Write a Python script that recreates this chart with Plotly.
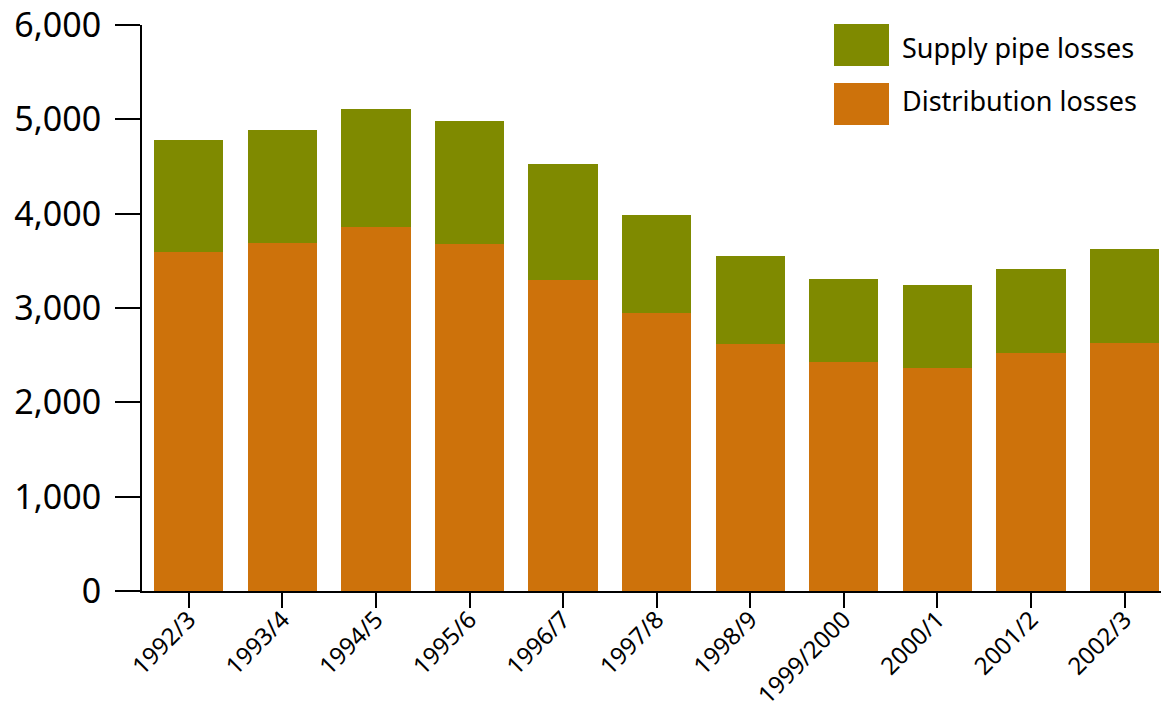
import plotly.graph_objects as go

categories = ["1992/3", "1993/4", "1994/5", "1995/6", "1996/7", "1997/8",
              "1998/9", "1999/2000", "2000/1", "2001/2", "2002/3"]
distribution_losses = [3597, 3689, 3859, 3679, 3297, 2947, 2622, 2431, 2364, 2523, 2629]
supply_pipe_losses = [1184, 1198, 1251, 1303, 1230, 1039, 929, 877, 880, 891, 997]
series_names = ["Supply pipe losses", "Distribution losses"]
y_ticks = [0, 1000, 2000, 3000, 4000, 5000, 6000]

GREEN = "#7F8A00"
ORANGE = "#CD720B"
FONT = "Noto Sans"

W, H = 1161, 717
L, R, T, B = 142, 0, 25, 126
pw, ph = W - L - R, H - T - B


def px(x):
    return (x - L) / pw


def py(y):
    return (H - B - y) / ph


fig = go.Figure()
fig.add_trace(go.Bar(x=categories, y=distribution_losses, name=series_names[1],
                     marker=dict(color=ORANGE, line=dict(width=0)), showlegend=False))
fig.add_trace(go.Bar(x=categories, y=supply_pipe_losses, name=series_names[0],
                     marker=dict(color=GREEN, line=dict(width=0)), showlegend=False))

shapes = []
annotations = []
swatch_tops = [24, 83]
text_centers = [47, 100]
for name, col, y0, yc in zip(series_names, [GREEN, ORANGE], swatch_tops, text_centers):
    shapes.append(dict(type="rect", xref="paper", yref="paper",
                       x0=px(834), x1=px(889), y0=py(y0), y1=py(y0 + 42),
                       fillcolor=col, line=dict(width=0), layer="above"))
    annotations.append(dict(xref="paper", yref="paper", x=px(900), y=py(yc),
                            xanchor="left", yanchor="middle", text=name, showarrow=False,
                            font=dict(family=FONT, size=27, color="#000000")))

fig.update_layout(
    width=W, height=H,
    margin=dict(l=L, r=R, t=T, b=B, pad=0),
    barmode="stack",
    bargap=0.26,
    plot_bgcolor="white", paper_bgcolor="white",
    font=dict(family=FONT, color="#000000"),
    shapes=shapes, annotations=annotations,
    xaxis=dict(range=[-0.5, 10.39], showline=True, linecolor="#000000", linewidth=2,
               ticks="outside", ticklen=15, tickwidth=1.5, tickcolor="#000000",
               tickangle=-45, tickfont=dict(family=FONT, size=24, color="#000000"),
               ticklabelstandoff=-12,
               showgrid=False, zeroline=False, automargin=False),
    yaxis=dict(range=[0, 6000], tickvals=y_ticks, tickformat=",d", showline=True,
               linecolor="#000000", linewidth=2, ticks="outside", ticklen=25,
               tickwidth=1.5, tickcolor="#000000", ticklabelstandoff=7,
               tickfont=dict(family=FONT, size=34, color="#000000"),
               showgrid=False, zeroline=False, automargin=False),
)

fig.write_html("out.html")
